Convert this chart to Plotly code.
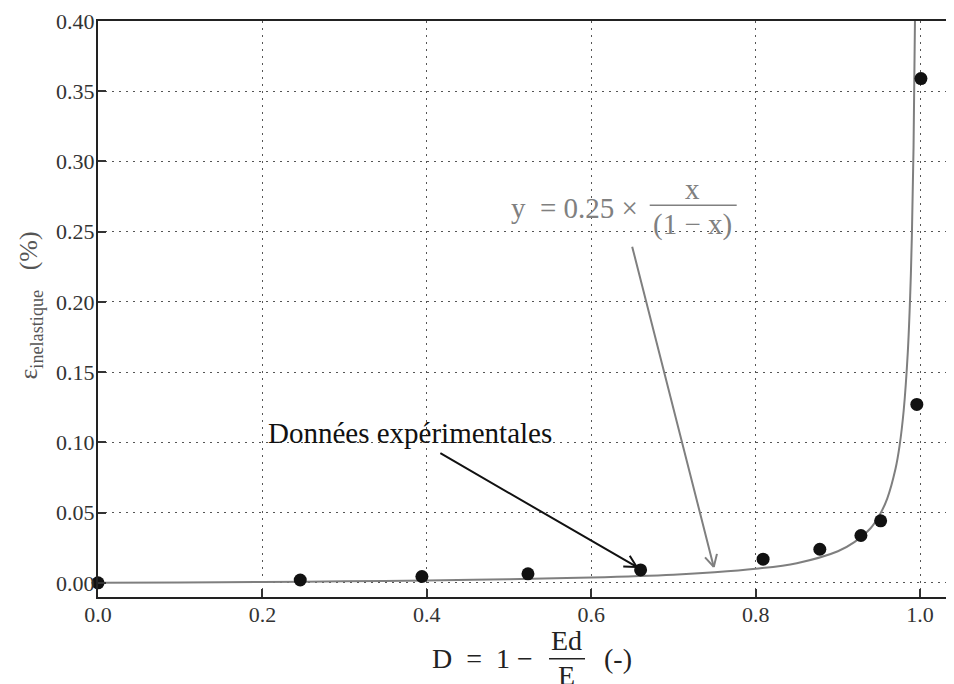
import math
import plotly.graph_objects as go

# Experimental points
d_exp = [0.0, 0.246, 0.394, 0.523, 0.660, 0.809, 0.878, 0.928, 0.952, 0.996, 1.001]
eps_exp = [0.0, 0.002, 0.0045, 0.0064, 0.0092, 0.0168, 0.0239, 0.0337, 0.0441, 0.127, 0.359]

# Model curve
d_fit = [0.0, 0.1, 0.2, 0.3, 0.4, 0.5, 0.6, 0.7, 0.75, 0.8, 0.85, 0.9, 0.92, 0.94, 0.95,
         0.96, 0.97, 0.975, 0.98, 0.985, 0.988, 0.99, 0.992, 0.994]
eps_fit = [0.0, 0.0003, 0.0006, 0.0011, 0.0017, 0.0025, 0.0038, 0.0058, 0.0075, 0.010, 0.014,
           0.0225, 0.029, 0.039, 0.0475, 0.060, 0.081, 0.0975, 0.1225, 0.164, 0.206, 0.2475,
           0.31, 0.414]

x_ticks = [0.0, 0.2, 0.4, 0.6, 0.8, 1.0]
x_ticktext = ["0.0", "0.2", "0.4", "0.6", "0.8", "1.0"]
y_ticks = [0.0, 0.05, 0.10, 0.15, 0.20, 0.25, 0.30, 0.35, 0.40]
y_ticktext = ["0.00", "0.05", "0.10", "0.15", "0.20", "0.25", "0.30", "0.35", "0.40"]

FONT = "Liberation Serif"
fig = go.Figure()
fig.add_trace(go.Scatter(x=d_fit, y=eps_fit, mode="lines", line=dict(color="#7f7f7f", width=2, shape="spline"),
                         showlegend=False, hoverinfo="skip"))
fig.add_trace(go.Scatter(x=d_exp, y=eps_exp, mode="markers", marker=dict(color="#111111", size=13),
                         showlegend=False, cliponaxis=False))

ann = []

def arrow(x0, y0, x1, y1, dx, dy, color):
    ann.append(dict(x=x1, y=y1, ax=x0, ay=y0, xref="x", yref="y", axref="x", ayref="y",
                    text="", showarrow=True, arrowhead=0, arrowwidth=2, arrowcolor=color))
    L = math.hypot(dx, dy)
    ux, uy = dx / L, dy / L
    for s in (1, -1):
        a = math.radians(28) * s
        wx = (ux * math.cos(a) - uy * math.sin(a)) * 15
        wy = (ux * math.sin(a) + uy * math.cos(a)) * 15
        ann.append(dict(x=x1, y=y1, ax=wx, ay=wy, xref="x", yref="y", axref="pixel", ayref="pixel",
                        text="", showarrow=True, arrowhead=0, arrowwidth=2, arrowcolor=color))

arrow(0.4146, 0.0929, 0.6553, 0.0113, -198, -115, "#111111")
arrow(0.6493, 0.2404, 0.749, 0.0113, -82, -323, "#7f7f7f")

def text(x, y, s, size, color, xref="x", yref="y", xanchor="center", angle=0):
    ann.append(dict(x=x, y=y, xref=xref, yref=yref, text=s, showarrow=False, xanchor=xanchor,
                    yanchor="middle", textangle=angle, font=dict(family=FONT, size=size, color=color)))

text(0.379, 0.1064, "Données expérimentales", 29, "#111111")
GRAY = "#808080"
text(0.659, 0.2667, "y  = 0.25 ×", 29, GRAY, xanchor="right")
text(0.7234, 0.2801, "x", 29, GRAY)
text(0.7234, 0.2553, "(1 − x)", 29, GRAY)

# x-axis title pieces (paper coords)
TC = "#222222"
text(0.5115, -0.1071, "D  =  1 −", 28, TC, "paper", "paper", xanchor="right")
text(0.5485, -0.075, "Ed", 28, TC, "paper", "paper")
text(0.5485, -0.136, "E", 28, TC, "paper", "paper")
text(0.5895, -0.1071, "(-)", 28, TC, "paper", "paper", xanchor="left")
# y-axis title
text(-0.0795, 0.506, "ε<sub>inelastique</sub>   (%)", 26, "#555555", "paper", "paper", angle=-90)

shapes = [
    dict(type="line", xref="x", yref="y", x0=0.6711, x1=0.7769, y0=0.2688, y1=0.2688,
         line=dict(color=GRAY, width=1.5)),
    dict(type="line", xref="paper", yref="paper", x0=0.5275, x1=0.5696, y0=-0.1071, y1=-0.1071,
         line=dict(color=TC, width=1.5)),
]

axis_common = dict(showline=True, linecolor="#222222", linewidth=2, ticks="inside", ticklen=8,
                   tickcolor="#333333", tickwidth=1.5, showgrid=True, gridcolor="#555555",
                   griddash="2px,5px", gridwidth=1.2, zeroline=False, ticklabelstandoff=-3,
                   ticklabeloverflow="allow",
                   tickfont=dict(family=FONT, size=22, color="#333333"))

# page body has an 8px margin: compensate so the plot lands where the reference has it
fig.update_layout(
    width=946, height=676, margin=dict(l=90, r=1, t=10, b=87),
    paper_bgcolor="white", plot_bgcolor="white",
    xaxis=dict(range=[0, 1.04], tickvals=x_ticks, ticktext=x_ticktext, mirror=True, **axis_common),
    yaxis=dict(range=[-0.0101, 0.40], tickvals=y_ticks, ticktext=y_ticktext, **axis_common),
    annotations=ann, shapes=shapes,
)
fig.write_html("out.html")
